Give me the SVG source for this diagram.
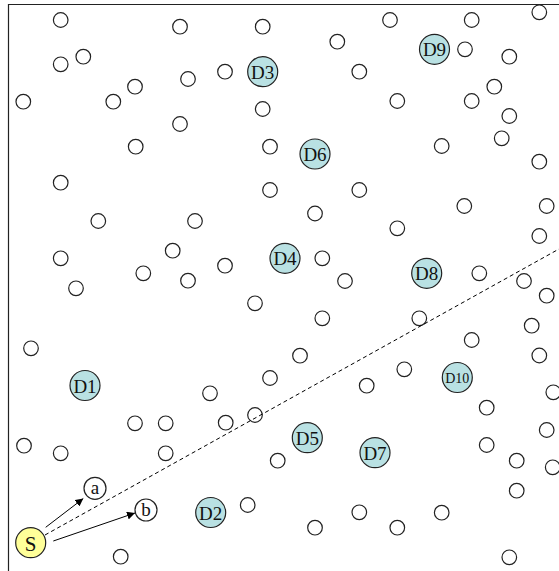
<svg xmlns="http://www.w3.org/2000/svg" width="559" height="571" viewBox="0 0 559 571">
<defs>
<style>
.n{fill:#fff;stroke:#222;stroke-width:1.2}
.d{fill:#b9e1e3;stroke:#222;stroke-width:1.2}
.s{fill:#ffff99;stroke:#222;stroke-width:1.2}
.t{font-family:"Liberation Serif",serif;font-size:19px;fill:#111;text-anchor:middle;dominant-baseline:central}
.t2{font-family:"Liberation Serif",serif;font-size:14px;fill:#111;text-anchor:middle;dominant-baseline:central}
.e{stroke:#000;stroke-width:1;fill:none}
</style>
<marker id="ah" viewBox="0 0 10 10" refX="10" refY="5" markerWidth="8" markerHeight="8" markerUnits="userSpaceOnUse" orient="auto"><path d="M0,0L10,5L0,10z" fill="#000"/></marker>
</defs>
<rect width="559" height="571" fill="#fff"/>
<path d="M8.5,571V4.5H559" fill="none" stroke="#222" stroke-width="1.2"/>
<g id="plain">
<circle class="n" cx="60.7" cy="20" r="7.3"/>
<circle class="n" cx="180" cy="26.7" r="7.3"/>
<circle class="n" cx="262.7" cy="26.7" r="7.3"/>
<circle class="n" cx="390" cy="20" r="7.3"/>
<circle class="n" cx="471.7" cy="20" r="7.3"/>
<circle class="n" cx="539.3" cy="12.3" r="7.3"/>
<circle class="n" cx="60.7" cy="64.3" r="7.3"/>
<circle class="n" cx="83.3" cy="56.7" r="7.3"/>
<circle class="n" cx="337.3" cy="41.7" r="7.3"/>
<circle class="n" cx="465" cy="49.3" r="7.3"/>
<circle class="n" cx="509.3" cy="56.7" r="7.3"/>
<circle class="n" cx="225" cy="71.7" r="7.3"/>
<circle class="n" cx="188" cy="79" r="7.3"/>
<circle class="n" cx="135" cy="86.7" r="7.3"/>
<circle class="n" cx="359.3" cy="71.7" r="7.3"/>
<circle class="n" cx="23.3" cy="101.7" r="7.3"/>
<circle class="n" cx="113.3" cy="101.7" r="7.3"/>
<circle class="n" cx="262.7" cy="109" r="7.3"/>
<circle class="n" cx="397.3" cy="101" r="7.3"/>
<circle class="n" cx="471.7" cy="101" r="7.3"/>
<circle class="n" cx="494.3" cy="86.7" r="7.3"/>
<circle class="n" cx="180" cy="124" r="7.3"/>
<circle class="n" cx="509.3" cy="116" r="7.3"/>
<circle class="n" cx="135.7" cy="146.7" r="7.3"/>
<circle class="n" cx="270" cy="146.7" r="7.3"/>
<circle class="n" cx="441.7" cy="146" r="7.3"/>
<circle class="n" cx="501.7" cy="138.3" r="7.3"/>
<circle class="n" cx="539.3" cy="161.7" r="7.3"/>
<circle class="n" cx="60.7" cy="182.7" r="7.3"/>
<circle class="n" cx="270" cy="190" r="7.3"/>
<circle class="n" cx="359.3" cy="190" r="7.3"/>
<circle class="n" cx="464.3" cy="206" r="7.3"/>
<circle class="n" cx="546.7" cy="206" r="7.3"/>
<circle class="n" cx="315" cy="213.5" r="7.3"/>
<circle class="n" cx="98.3" cy="221" r="7.3"/>
<circle class="n" cx="195" cy="221" r="7.3"/>
<circle class="n" cx="397.3" cy="228.3" r="7.3"/>
<circle class="n" cx="539.3" cy="236" r="7.3"/>
<circle class="n" cx="172.7" cy="250.7" r="7.3"/>
<circle class="n" cx="60.7" cy="258.3" r="7.3"/>
<circle class="n" cx="322.3" cy="258.3" r="7.3"/>
<circle class="n" cx="225" cy="265.7" r="7.3"/>
<circle class="n" cx="143.3" cy="273.3" r="7.3"/>
<circle class="n" cx="188" cy="280.7" r="7.3"/>
<circle class="n" cx="345" cy="281" r="7.3"/>
<circle class="n" cx="479.3" cy="273.3" r="7.3"/>
<circle class="n" cx="524" cy="281" r="7.3"/>
<circle class="n" cx="76" cy="288.3" r="7.3"/>
<circle class="n" cx="546.7" cy="295.7" r="7.3"/>
<circle class="n" cx="255" cy="303.3" r="7.3"/>
<circle class="n" cx="322.3" cy="318.3" r="7.3"/>
<circle class="n" cx="419.3" cy="318.3" r="7.3"/>
<circle class="n" cx="531.7" cy="325.7" r="7.3"/>
<circle class="n" cx="31" cy="348.3" r="7.3"/>
<circle class="n" cx="300" cy="355.7" r="7.3"/>
<circle class="n" cx="471.7" cy="340" r="7.3"/>
<circle class="n" cx="539.3" cy="355.5" r="7.3"/>
<circle class="n" cx="404.3" cy="369.3" r="7.3"/>
<circle class="n" cx="366.7" cy="385.7" r="7.3"/>
<circle class="n" cx="270" cy="378" r="7.3"/>
<circle class="n" cx="210" cy="393.3" r="7.3"/>
<circle class="n" cx="553.3" cy="392.3" r="7.3"/>
<circle class="n" cx="486.7" cy="407.7" r="7.3"/>
<circle class="n" cx="135" cy="423.3" r="7.3"/>
<circle class="n" cx="165.7" cy="423.3" r="7.3"/>
<circle class="n" cx="225.7" cy="422.7" r="7.3"/>
<circle class="n" cx="255" cy="415" r="7.3"/>
<circle class="n" cx="24" cy="445.7" r="7.3"/>
<circle class="n" cx="60.7" cy="453.3" r="7.3"/>
<circle class="n" cx="165.7" cy="453.3" r="7.3"/>
<circle class="n" cx="546.7" cy="430" r="7.3"/>
<circle class="n" cx="486.7" cy="445" r="7.3"/>
<circle class="n" cx="277.7" cy="460.7" r="7.3"/>
<circle class="n" cx="516.7" cy="460.7" r="7.3"/>
<circle class="n" cx="552.7" cy="467.3" r="7.3"/>
<circle class="n" cx="516.7" cy="490.7" r="7.3"/>
<circle class="n" cx="247.7" cy="505" r="7.3"/>
<circle class="n" cx="359.3" cy="512.3" r="7.3"/>
<circle class="n" cx="441.7" cy="512.7" r="7.3"/>
<circle class="n" cx="315" cy="527.7" r="7.3"/>
<circle class="n" cx="397.3" cy="527.7" r="7.3"/>
<circle class="n" cx="120.7" cy="556.7" r="7.3"/>
<circle class="n" cx="509.3" cy="557.3" r="7.3"/>
</g>
<g id="connectors">
<path class="e" d="M45,535L559,249" stroke-dasharray="4,3"/>
<path class="e" d="M45.7,527.3L83.3,498.5" marker-end="url(#ah)"/>
<path class="e" d="M53.3,541L135,513" marker-end="url(#ah)"/>
</g>
<g id="D1"><circle class="d" cx="85" cy="385.5" r="15"/><text class="t" x="85" y="386">D1</text></g>
<g id="D2"><circle class="d" cx="210.7" cy="512.5" r="15"/><text class="t" x="210.7" y="513">D2</text></g>
<g id="D3"><circle class="d" cx="262.7" cy="71.7" r="15"/><text class="t" x="262.7" y="72.2">D3</text></g>
<g id="D4"><circle class="d" cx="285" cy="258.3" r="15"/><text class="t" x="285" y="258.8">D4</text></g>
<g id="D5"><circle class="d" cx="307.3" cy="437.7" r="15"/><text class="t" x="307.3" y="438.2">D5</text></g>
<g id="D6"><circle class="d" cx="315" cy="154" r="15"/><text class="t" x="315" y="154.5">D6</text></g>
<g id="D7"><circle class="d" cx="375" cy="452.7" r="15"/><text class="t" x="375" y="453.2">D7</text></g>
<g id="D8"><circle class="d" cx="426.7" cy="273.3" r="15"/><text class="t" x="426.7" y="273.8">D8</text></g>
<g id="D9"><circle class="d" cx="434.5" cy="49.3" r="15"/><text class="t" x="434.5" y="49.8">D9</text></g>
<g id="D10"><circle class="d" cx="457.3" cy="377.5" r="15"/><text class="t2" x="457.3" y="378">D10</text></g>
<g id="S"><circle class="s" cx="30.7" cy="542.7" r="15"/><text class="t" x="30.7" y="543.5" style="font-size:21px">S</text></g>
<g id="a"><circle class="n" cx="95" cy="488.3" r="11"/><text class="t" x="95" y="487.5">a</text></g>
<g id="b"><circle class="n" cx="146" cy="510" r="11"/><text class="t" x="146" y="509">b</text></g>
</svg>
